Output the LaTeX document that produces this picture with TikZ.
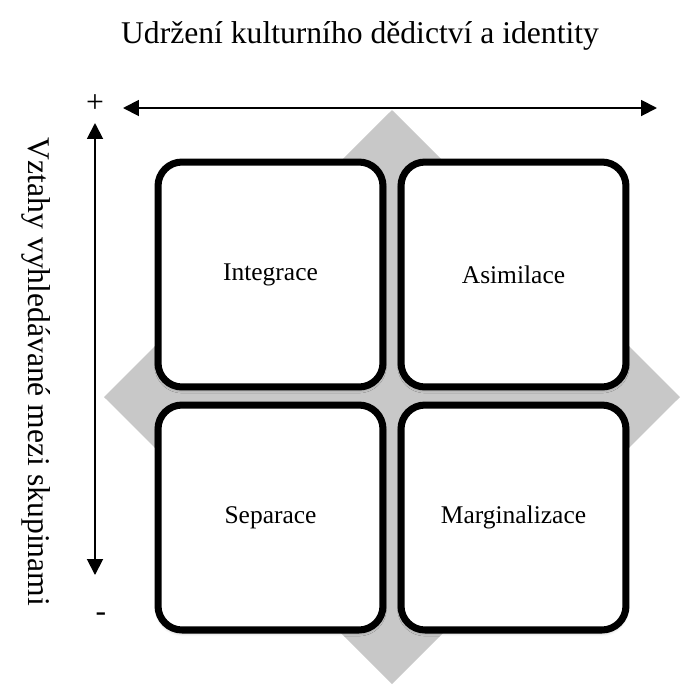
\documentclass[tikz,border=0pt]{standalone}
\usepackage{fontspec}
\setmainfont{Liberation Serif}
\usetikzlibrary{arrows.meta, shadows.blur}
\definecolor{ink}{HTML}{000000}
\definecolor{wash}{HTML}{C8C8C8}
\tikzset{
  font=\rmfamily,
  >={Triangle[length=9pt, width=9pt]},
  %
  quad/.style={
    draw=ink, line width=4pt, fill=white, rounded corners=0.48cm,
    minimum width=4.5cm, minimum height=4.5cm, align=center, text=ink,
    font=\fontsize{14.5}{17}\selectfont,
    blur shadow={shadow xshift=0pt, shadow yshift=-1.5pt,
                 shadow blur radius=2pt, shadow opacity=35},
  },
  %
  axis/.style={draw=ink, line width=1.1pt, <->},
  backdrop/.style={fill=wash, draw=none},
  %
  head/.style={font=\fontsize{18}{22}\selectfont, text=ink, inner sep=0pt},
  sign/.style={font=\fontsize{18}{20}\selectfont, text=ink, inner sep=0pt},
}

\begin{document}
\begin{tikzpicture}[x=0.02cm, y=-0.02cm]
\useasboundingbox (0,0) rectangle (687,684);

% ---------------------------------------------------------------- backdrop
\fill[backdrop] (392,110) -- (680,397) -- (392,684) -- (104,397) -- cycle;

% ------------------------------------------------------------------- axes
\node[head] (title) at (360,36) {Udržení kulturního dědictví a identity};
\node[head, rotate=-90] (side) at (36,372) {Vztahy vyhledávané mezi skupinami};

\coordinate (hleft)  at (123,108);
\coordinate (hright) at (657,108);
\coordinate (vtop)   at (95,123);
\coordinate (vbot)   at (95,575);
\draw[axis] (hleft) -- (hright);
\draw[axis] (vtop) -- (vbot);

\node[sign] (plus)  at (95,104) {+};
\node[sign] (minus) at (101,617) {-};

% ---------------------------------------------------------------- quadrants
\node[quad] (integ) at (270.5,274.5) {Integrace};
\node[quad] (asim)  at (513.5,274.5) {Asimilace};
\node[quad] (sep)   at (270.5,517.5) {Separace};
\node[quad] (marg)  at (513.5,517.5) {Marginalizace};

\end{tikzpicture}
\end{document}
